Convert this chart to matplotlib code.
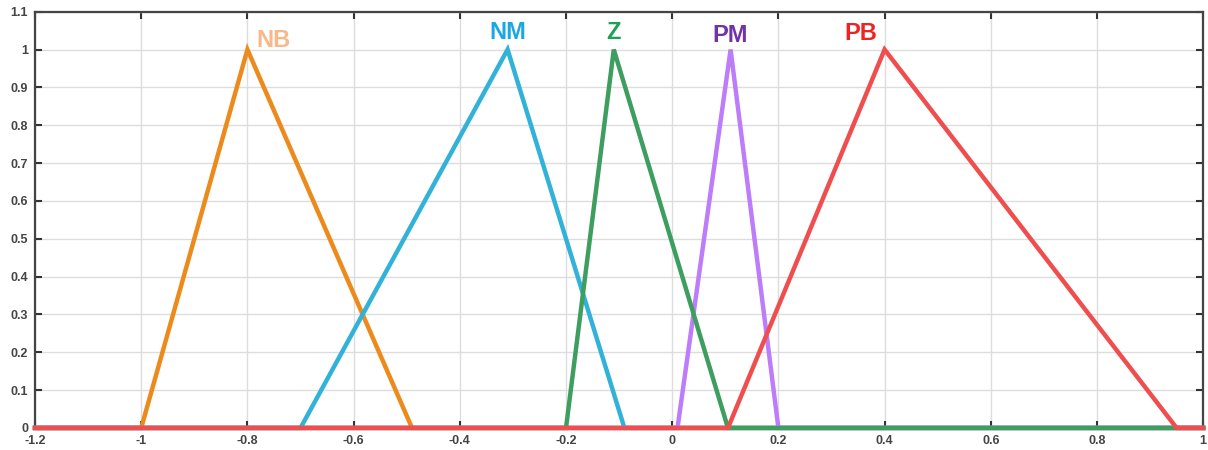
import matplotlib.pyplot as plt
import numpy as np

plt.rcParams['font.family'] = ['Liberation Sans', 'DejaVu Sans']

# triangular membership functions: (a, b, c) = start, peak, end
etiquetas = ["NB", "NM", "Z", "PM", "PB"]
puntos = {
    "NB": (-1.0, -0.8, -0.49),
    "NM": (-0.70, -0.31, -0.09),
    "Z": (-0.20, -0.11, 0.105),
    "PM": (0.01, 0.11, 0.20),
    "PB": (0.105, 0.40, 0.95),
}
colores_linea = {"NB": "#EC8A1C", "NM": "#32B2D8", "Z": "#3E9E60",
                 "PM": "#BD7CFA", "PB": "#F04E4E"}
colores_texto = {"NB": "#F8B88A", "NM": "#1BA8E2", "Z": "#1FA152",
                 "PM": "#7133A6", "PB": "#EE2424"}
pos_texto = {"NB": (-0.75, 1.025), "NM": (-0.31, 1.045), "Z": (-0.11, 1.045),
             "PM": (0.11, 1.038), "PB": (0.355, 1.042)}
orden_z = {"NB": 2, "NM": 3, "PM": 4, "Z": 5, "PB": 6}

x_min, x_max = -1.2, 1.0
xticks = [-1.2, -1.0, -0.8, -0.6, -0.4, -0.2, 0.0, 0.2, 0.4, 0.6, 0.8, 1.0]
yticks = [0.0, 0.1, 0.2, 0.3, 0.4, 0.5, 0.6, 0.7, 0.8, 0.9, 1.0, 1.1]

fig = plt.figure(figsize=(12.08, 4.5), dpi=100)
ax = fig.add_axes([0.029, 0.049, 0.967, 0.925])

for et in etiquetas:
    a, b, c = puntos[et]
    xs = [x_min, a, b, c, x_max]
    ys = [0, 0, 1, 0, 0]
    ax.plot(xs, ys, color=colores_linea[et], lw=3.2, zorder=orden_z[et],
            solid_joinstyle="miter", clip_on=False)
    tx, ty = pos_texto[et]
    ax.text(tx, ty, et, color=colores_texto[et], fontsize=17, fontweight="bold",
            ha="center", va="center", zorder=10)

ax.set_xlim(x_min, x_max)
ax.set_ylim(0, 1.1)
ax.set_xticks(xticks)
ax.set_yticks(yticks)
ax.set_xticklabels([f"{v:g}" for v in xticks])
ax.set_yticklabels([f"{v:g}" for v in yticks])
ax.grid(True, color="#DDDDDD", lw=1.0)
ax.set_axisbelow(True)
ax.tick_params(direction="in", length=5, width=1.5, top=True, right=True,
               labelsize=9, colors="#333333", pad=5)
for lab in ax.get_xticklabels() + ax.get_yticklabels():
    lab.set_fontweight("bold")
    lab.set_color("#444444")
for sp in ax.spines.values():
    sp.set_linewidth(1.6)
    sp.set_color("#444444")

fig.savefig("out.png", dpi=100)
